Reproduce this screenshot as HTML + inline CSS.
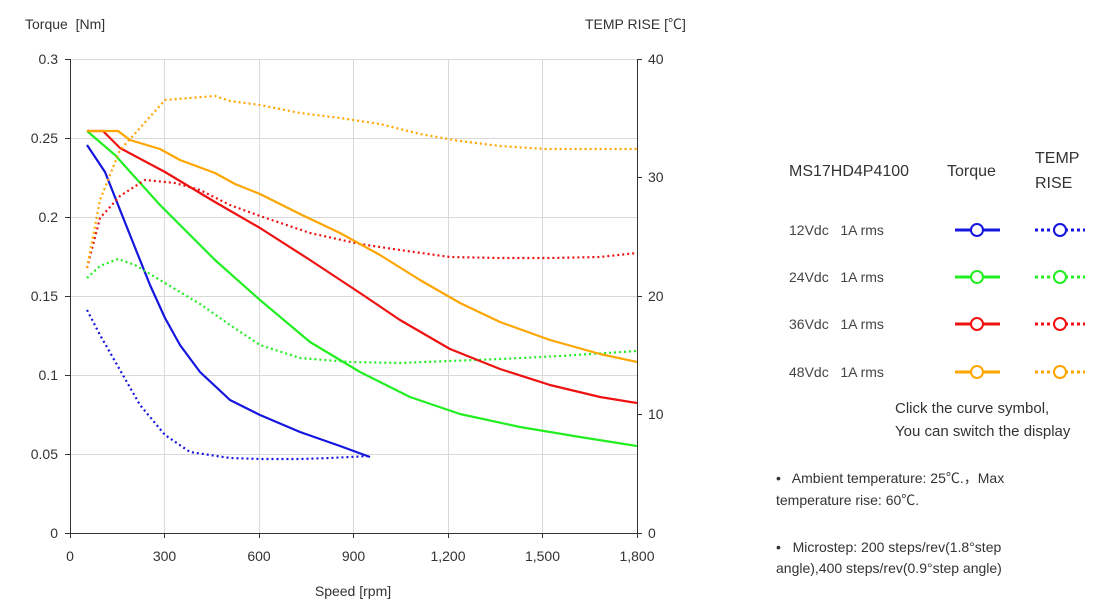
<!DOCTYPE html>
<html><head><meta charset="utf-8"><style>
html,body{margin:0;padding:0;background:#fff;}
svg{display:block;font-family:"Liberation Sans","Noto Sans CJK SC",sans-serif;}
text{white-space:pre;}
</style></head><body>
<svg width="1114" height="606" viewBox="0 0 1114 606" xml:space="preserve">
<g stroke="#d9d9d9" stroke-width="1" fill="none">
<line x1="70" y1="59.5" x2="637" y2="59.5"/><line x1="70" y1="138.5" x2="637" y2="138.5"/>
<line x1="70" y1="217.5" x2="637" y2="217.5"/><line x1="70" y1="296.5" x2="637" y2="296.5"/>
<line x1="70" y1="375.5" x2="637" y2="375.5"/><line x1="70" y1="454.5" x2="637" y2="454.5"/>
<line x1="164.5" y1="59" x2="164.5" y2="533"/><line x1="259.5" y1="59" x2="259.5" y2="533"/>
<line x1="353.5" y1="59" x2="353.5" y2="533"/><line x1="448.5" y1="59" x2="448.5" y2="533"/>
<line x1="542.5" y1="59" x2="542.5" y2="533"/>
</g>
<g stroke="#333" stroke-width="1" fill="none">
<line x1="70.5" y1="59" x2="70.5" y2="533"/><line x1="637.5" y1="59" x2="637.5" y2="533"/>
<line x1="70" y1="533.5" x2="637" y2="533.5"/>
<path d="M65 59.5H70M65 138.5H70M65 217.5H70M65 296.5H70M65 375.5H70M65 454.5H70M65 533.5H70"/>
<path d="M637 59.5H642M637 177.5H642M637 296.5H642M637 414.5H642M637 533.5H642"/>
<path d="M70.5 533V538M164.5 533V538M259.5 533V538M353.5 533V538M448.5 533V538M542.5 533V538M637.5 533V538"/>
</g>
<g font-size="14" fill="#333">
<text x="25" y="29">Torque  [Nm]</text>
<text x="585" y="29">TEMP RISE [℃]</text>
<g text-anchor="end">
<text x="58" y="64">0.3</text><text x="58" y="143">0.25</text><text x="58" y="222">0.2</text>
<text x="58" y="301">0.15</text><text x="58" y="380">0.1</text><text x="58" y="459">0.05</text><text x="58" y="538">0</text>
</g>
<text x="648" y="64">40</text><text x="648" y="182">30</text><text x="648" y="301">20</text><text x="648" y="419">10</text><text x="648" y="538">0</text>
<g text-anchor="middle">
<text x="70" y="561">0</text><text x="164.5" y="561">300</text><text x="259" y="561">600</text><text x="353.5" y="561">900</text>
<text x="448" y="561">1,200</text><text x="542.5" y="561">1,500</text><text x="637" y="561">1,800</text>
<text x="353" y="596">Speed [rpm]</text>
</g>
</g>
<g fill="none" stroke-width="2.2" stroke-linejoin="round">
<polyline stroke="#1515e0" points="87,145 105,172 130,235 150,285 165,318 180,345 200,372 230,400 260,415 300,432 340,446 370,457"/>
<polyline stroke="#1515e0" stroke-dasharray="2,3" points="87,310 100,335 120,370 140,405 165,435 190,452 230,458 260,459 300,459 330,458 370,456"/>
<polyline stroke="#22ee22" points="87,131 115,155 160,205 215,260 260,300 310,342 360,372 410,397 460,414 520,427 580,437 637,446"/>
<polyline stroke="#22ee22" stroke-dasharray="2,3" points="87,278 100,266 118,259 135,265 165,283 200,304 230,325 260,345 300,358 350,362 400,363 450,361 500,359 560,356 637,351"/>
<polyline stroke="#ee1111" points="87,131 103,131 120,148 165,172 215,202 260,228 310,260 360,293 400,320 450,349 500,369 550,385 600,397 637,403"/>
<polyline stroke="#ee1111" stroke-dasharray="2,3" points="87,268 100,218 120,196 145,180 175,183 200,190 230,205 260,216 310,233 360,244 400,250 450,257 500,258 550,258 600,257 637,253"/>
<polyline stroke="#ffa500" points="87,131 118,131 130,140 160,149 180,160 215,173 235,184 260,194 300,214 340,233 380,255 420,280 460,303 500,322 550,340 600,354 637,362"/>
<polyline stroke="#ffa500" stroke-dasharray="2,3" points="87,268 100,200 120,150 140,128 165,100 190,98 215,96 230,101 260,105 300,113 340,118 380,124 420,134 460,141 500,146 545,149 637,149"/>
</g>
<g font-size="16" fill="#333">
<text x="789" y="176">MS17HD4P4100</text>
<text x="947" y="176">Torque</text>
<text x="1035" y="163">TEMP</text><text x="1035" y="188">RISE</text>
</g>
<g font-size="14" fill="#444">
<text x="789" y="235">12Vdc   1A rms</text>
<text x="789" y="282">24Vdc   1A rms</text>
<text x="789" y="329">36Vdc   1A rms</text>
<text x="789" y="377">48Vdc   1A rms</text>
</g>
<g stroke-width="3" fill="#fff">
<g stroke="#1515e0"><line x1="955" y1="230" x2="1000" y2="230"/><line x1="1035" y1="230" x2="1085" y2="230" stroke-dasharray="3,3"/><circle cx="977" cy="230" r="6" stroke-width="2"/><circle cx="1060" cy="230" r="6" stroke-width="2"/></g>
<g stroke="#22ee22"><line x1="955" y1="277" x2="1000" y2="277"/><line x1="1035" y1="277" x2="1085" y2="277" stroke-dasharray="3,3"/><circle cx="977" cy="277" r="6" stroke-width="2"/><circle cx="1060" cy="277" r="6" stroke-width="2"/></g>
<g stroke="#ee1111"><line x1="955" y1="324" x2="1000" y2="324"/><line x1="1035" y1="324" x2="1085" y2="324" stroke-dasharray="3,3"/><circle cx="977" cy="324" r="6" stroke-width="2"/><circle cx="1060" cy="324" r="6" stroke-width="2"/></g>
<g stroke="#ffa500"><line x1="955" y1="372" x2="1000" y2="372"/><line x1="1035" y1="372" x2="1085" y2="372" stroke-dasharray="3,3"/><circle cx="977" cy="372" r="6" stroke-width="2"/><circle cx="1060" cy="372" r="6" stroke-width="2"/></g>
</g>
<g font-size="15" fill="#333">
<text x="895" y="413">Click the curve symbol,</text>
<text x="895" y="436">You can switch the display</text>
</g>
<g font-size="14" fill="#333">
<text x="776" y="483">•   Ambient temperature: 25℃.，Max</text>
<text x="776" y="505">temperature rise: 60℃.</text>
<text x="776" y="552">•   Microstep: 200 steps/rev(1.8°step</text>
<text x="776" y="573">angle),400 steps/rev(0.9°step angle)</text>
</g>
</svg>
</body></html>
